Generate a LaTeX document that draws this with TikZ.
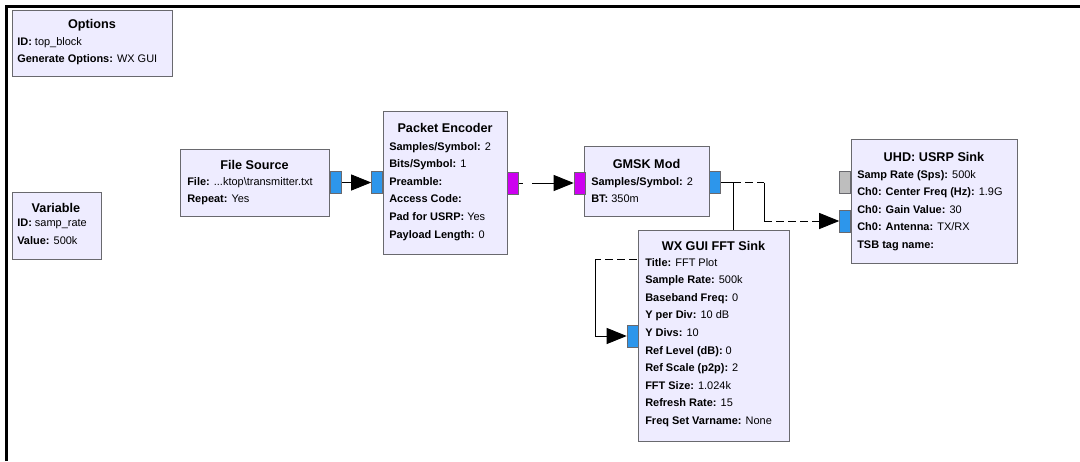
\documentclass[tikz,border=0pt]{standalone}
\usepackage{fontspec}
\setmainfont{Liberation Sans}
\usetikzlibrary{arrows.meta}
\usetikzlibrary{backgrounds}
\definecolor{blockfill}{RGB}{238,236,255}
\definecolor{blockline}{RGB}{105,105,110}
\definecolor{portblue}{RGB}{45,150,235}
\definecolor{portpink}{RGB}{205,0,240}
\definecolor{portgray}{RGB}{190,190,190}
\newcommand{\pu}{0.025cm}

\begin{document}
\begin{tikzpicture}
    [x=0.025cm, y=-0.025cm,
    block/.style={draw=blockline, fill=blockfill, anchor=north west, inner sep=0pt},
    title/.style={inner sep=0pt, font=\bfseries\fontsize{9}{11}\selectfont},
    params/.style={anchor=north west, align=left, inner sep=0pt, font=\fontsize{7.8}{12.5}\selectfont},
    portbox/.style={draw=blockline, fill=#1, minimum width=11*\pu, minimum height=22*\pu, inner sep=0pt},
    link/.style={draw=black, line width=0.6pt},
    tip/.style={-{Triangle[length=5mm, width=4mm]}},
    dashlink/.style={dash pattern=on 2mm off 1mm}]
    \useasboundingbox (0,0) rectangle (1080,461);
    \draw[line width=3*\pu] (6,461) -- (6,6) -- (1080,6);
    % blocks
    \node[block, minimum width=160*\pu, minimum height=66*\pu] (opt) at (12,10) {};
    \node[title] (opt-t) at (92,25) {Options};
    \node[params] (opt-p) at (17,37) {\textbf{ID:} top\_block\\\textbf{Generate Options:} WX GUI};
    \node[block, minimum width=89*\pu, minimum height=67*\pu] (var) at (12,192) {};
    \node[title] (var-t) at (56,208) {Variable};
    \node[params] (var-p) at (17,219) {\textbf{ID:} samp\_rate\\\textbf{Value:} 500k};
    \node[block, minimum width=149*\pu, minimum height=67*\pu] (fs) at (180,149) {};
    \node[title] (fs-t) at (254.5,165) {File Source};
    \node[params] (fs-p) at (187,177) {\textbf{File:} ...ktop\textbackslash transmitter.txt\\\textbf{Repeat:} Yes};
    \node[block, minimum width=124*\pu, minimum height=143*\pu] (pe) at (383,111) {};
    \node[title] (pe-t) at (445,128) {Packet Encoder};
    \node[params] (pe-p) at (389,142) {\textbf{Samples/Symbol:} 2\\\textbf{Bits/Symbol:} 1\\\textbf{Preamble:}\\\textbf{Access Code:}\\\textbf{Pad for USRP:} Yes\\\textbf{Payload Length:} 0};
    \node[block, minimum width=125*\pu, minimum height=70*\pu] (gm) at (584,146) {};
    \node[title] (gm-t) at (646.5,164) {GMSK Mod};
    \node[params] (gm-p) at (591,177) {\textbf{Samples/Symbol:} 2\\\textbf{BT:} 350m};
    \node[block, minimum width=166*\pu, minimum height=124*\pu] (us) at (851,139) {};
    \node[title] (us-t) at (934,157) {UHD: USRP Sink};
    \node[params] (us-p) at (857,170) {\textbf{Samp Rate (Sps):} 500k\\\textbf{Ch0: Center Freq (Hz):} 1.9G\\\textbf{Ch0: Gain Value:} 30\\\textbf{Ch0: Antenna:} TX/RX\\\textbf{TSB tag name:}};
    \node[block, minimum width=151*\pu, minimum height=211*\pu] (ff) at (638,230) {};
    \node[title] (ff-t) at (713.5,246) {WX GUI FFT Sink};
    \node[params] (ff-p) at (645,258) {\textbf{Title:} FFT Plot\\\textbf{Sample Rate:} 500k\\\textbf{Baseband Freq:} 0\\\textbf{Y per Div:} 10 dB\\\textbf{Y Divs:} 10\\\textbf{Ref Level (dB):} 0\\\textbf{Ref Scale (p2p):} 2\\\textbf{FFT Size:} 1.024k\\\textbf{Refresh Rate:} 15\\\textbf{Freq Set Varname:} None};
    % ports
    \node[portbox=portblue] (fs-o) at (335.5,182.5) {};
    \node[portbox=portblue] (pe-i) at (377,182.5) {};
    \node[portbox=portpink] (pe-o) at (512.5,183) {};
    \node[portbox=portpink] (gm-i) at (579.5,183) {};
    \node[portbox=portblue] (gm-o) at (714.5,182.5) {};
    \node[portbox=portgray] (us-g) at (845,182.5) {};
    \node[portbox=portblue] (us-i) at (845,221) {};
    \node[portbox=portblue] (ff-i) at (632.5,336) {};
    % connections
    \coordinate (split) at (733,182.5);
    \coordinate (bendA) at (764,182.5);
    \coordinate (bendB) at (764,221);
    \coordinate (drop) at (733,259);
    \coordinate (loopA) at (595,259);
    \coordinate (loopB) at (595,336);
    \begin{scope}[on background layer]
    \draw[link, tip] (fs-o) -- (pe-i);
    \draw[link, tip, dash pattern=on 1.2mm off 2.2mm on 20mm] (pe-o.east) -- (gm-i.west);
    \draw[link] (gm-o.east) -- (split);
    \draw[link, dashlink] (split) -- (bendA);
    \draw[link] (bendA) -- (bendB);
    \draw[link, dashlink, tip] (bendB) -- (us-i.west);
    \draw[link] (split) -- (drop);
    \draw[link, dashlink] (drop) -- (loopA);
    \draw[link] (loopA) -- (loopB);
    \draw[link, tip] (loopB) -- (ff-i.west);
    \end{scope}
\end{tikzpicture}
\end{document}
